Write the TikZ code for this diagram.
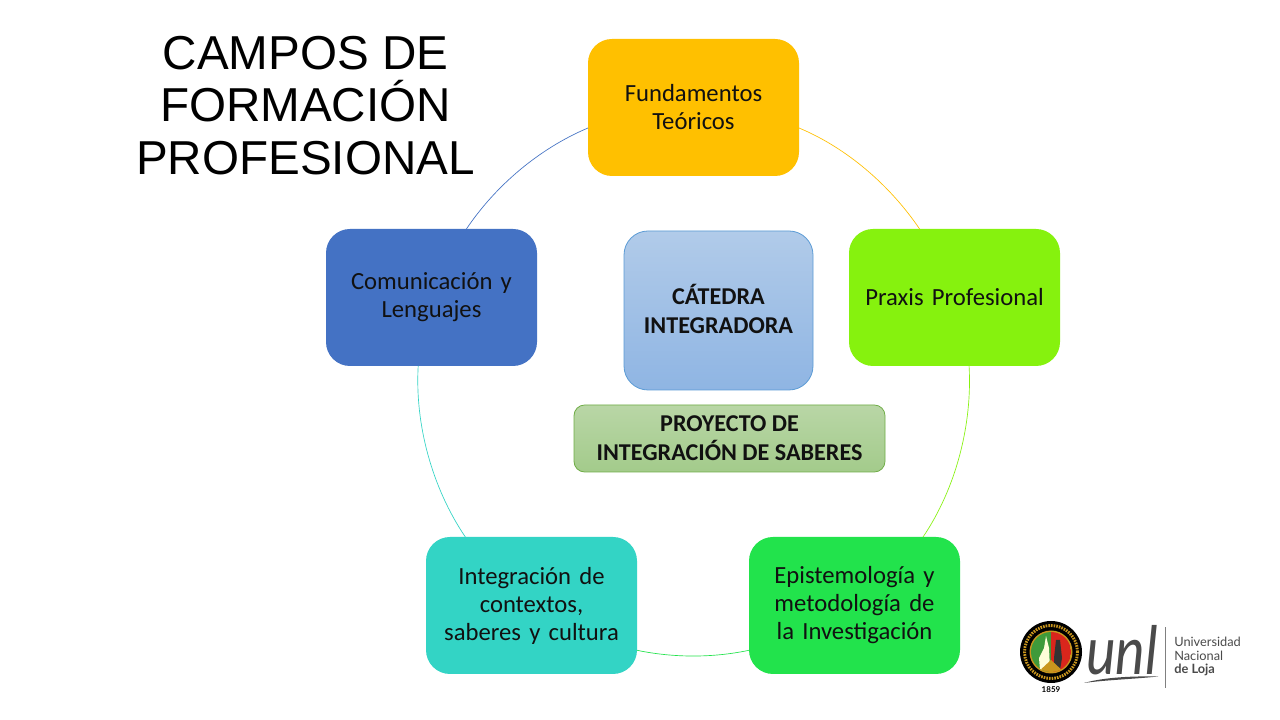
\documentclass[tikz,border=0pt]{standalone}
\usepackage{fontspec}
\setmainfont{Carlito}
\newfontfamily\titlefont{Liberation Sans}
\newfontfamily\logofont{Lato}
\definecolor{cFund}{HTML}{FFC000}
\definecolor{cPrax}{HTML}{86F20E}
\definecolor{cEpis}{HTML}{22E34C}
\definecolor{cInte}{HTML}{33D4C5}
\definecolor{cComu}{HTML}{4472C4}
\definecolor{cCatT}{HTML}{B1CBE9}
\definecolor{cCatB}{HTML}{8FB5E3}
\definecolor{cCatL}{HTML}{5B9BD5}
\definecolor{cProT}{HTML}{B9D6A6}
\definecolor{cProB}{HTML}{A3CB8B}
\definecolor{cProL}{HTML}{70AD47}
\definecolor{cTxt}{HTML}{111111}
\definecolor{cSealGold}{HTML}{C9961E}
\definecolor{cSealGreen}{HTML}{3F9A3A}
\definecolor{cSealRed}{HTML}{D9261C}
\definecolor{cLogo}{HTML}{4A4A4A}
\tikzset{
  x=0.75pt,y=0.75pt,
  campo/.style={rounded corners=18pt,minimum width=158.25pt,minimum height=102.75pt,outer sep=0pt,inner sep=0pt,
    text width=150pt,align=center,font=\fontsize{18.5}{21}\selectfont,text=cTxt},
  central/.style={rounded corners=18pt,outer sep=0pt,inner sep=0pt,align=center,
    font=\fontsize{18.1}{21.5}\selectfont\bfseries,text=cTxt,line width=0.6pt},
  enlace/.style={line width=0.5pt,looseness=0.85},
}
\begin{document}
\begin{tikzpicture}
\useasboundingbox (0,0) rectangle (1280,720);
\fill[white] (0,0) rectangle (1280,720);
\node[font=\titlefont\fontsize{35.7}{39.5}\selectfont,align=center,text=black,inner sep=0pt] (titulo) at (305.5,614.5) {CAMPOS DE\\FORMACIÓN\\PROFESIONAL};

\node[campo,fill=cFund] (fund) at (693.5,612.5) {Fundamentos\\Teóricos\rule[-1.5pt]{0pt}{0pt}};
\node[campo,fill=cPrax] (prax) at (954.5,422.5) {Praxis Profesional};
\node[campo,fill=cEpis] (epis) at (854.5,114.5) {Epistemología y\\metodología de\\la Investigación};
\node[campo,fill=cInte] (inte) at (531.5,114.5) {Integración de\\contextos,\\saberes y cultura};
\node[campo,fill=cComu] (comu) at (431.5,422.5) {Comunicación y\\Lenguajes};

\draw[enlace,cFund] (fund.-11) to[out=-22.6,in=124.1] (prax.117.4);
\draw[enlace,cPrax] (prax.-78.9) to[out=-86.7,in=55.9] (epis.45.4);
\draw[enlace,cEpis] (epis.203.5) to[out=-168,in=-11.8] (inte.-23.3);
\draw[enlace,cInte] (inte.134.6) to[out=124.1,in=266.7] (comu.-101.1);
\draw[enlace,cComu] (comu.63.9) to[out=56.1,in=202.8] (fund.191);

\node[central,draw=cCatL,top color=cCatT,bottom color=cCatB,minimum width=141.75pt,minimum height=119.25pt] (cat) at (718.5,409.5) {CÁTEDRA\\INTEGRADORA\rule[-2.5pt]{0pt}{0pt}};
\node[central,rounded corners=8pt,draw=cProL,top color=cProT,bottom color=cProB,minimum width=233.25pt,minimum height=50.25pt] (pro) at (729.5,281.5) {PROYECTO DE\\INTEGRACIÓN DE SABERES};

% logo
\fill[black] (1051,68) circle (31);
\draw[cSealGold,line width=2.2pt,dash pattern=on 1.2pt off 0.8pt] (1051,68) circle (26.5);
\fill[cSealGold] (1051,68) circle (21.5);
\begin{scope}
\clip (1051,68) circle (20);
\fill[cSealGreen] (1031,48) rectangle (1051,88);
\fill[cSealRed] (1051,48) rectangle (1071,88);
\fill[white!85!yellow] (1040,50) -- (1039,62) -- (1044,72) -- (1046,84) -- (1049,72) -- (1050,50) -- cycle;
\fill[black!80] (1054,62) -- (1056,80) -- (1060,80) -- (1062,62) -- (1060,50) -- (1054,50) -- cycle;
\fill[cSealGold] (1036,46) -- (1051,60) -- (1066,46) -- cycle;
\end{scope}
\node[font=\logofont\bfseries\fontsize{6}{6}\selectfont,text=black,inner sep=0pt] (anio) at (1051,30) {1859};
\node[font=\logofont\itshape\fontsize{50}{50}\selectfont,text=cLogo,inner sep=0pt,xscale=0.84] (unl) at (1122,70) {unl};
\fill[cLogo] (1084,37) .. controls (1105,43) and (1135,44) .. (1158,43.5) .. controls (1135,41) and (1105,40) .. (1084,37) -- cycle;
\draw[cLogo!70,line width=0.6pt] (1165,32) -- (1165,93);
\node[font=\logofont\fontsize{9.6}{9.8}\selectfont,text=cLogo,align=left,anchor=west,inner sep=0pt] (nom) at (1174,63.5) {Universidad\\Nacional\\\textbf{de Loja}};
\end{tikzpicture}
\end{document}
